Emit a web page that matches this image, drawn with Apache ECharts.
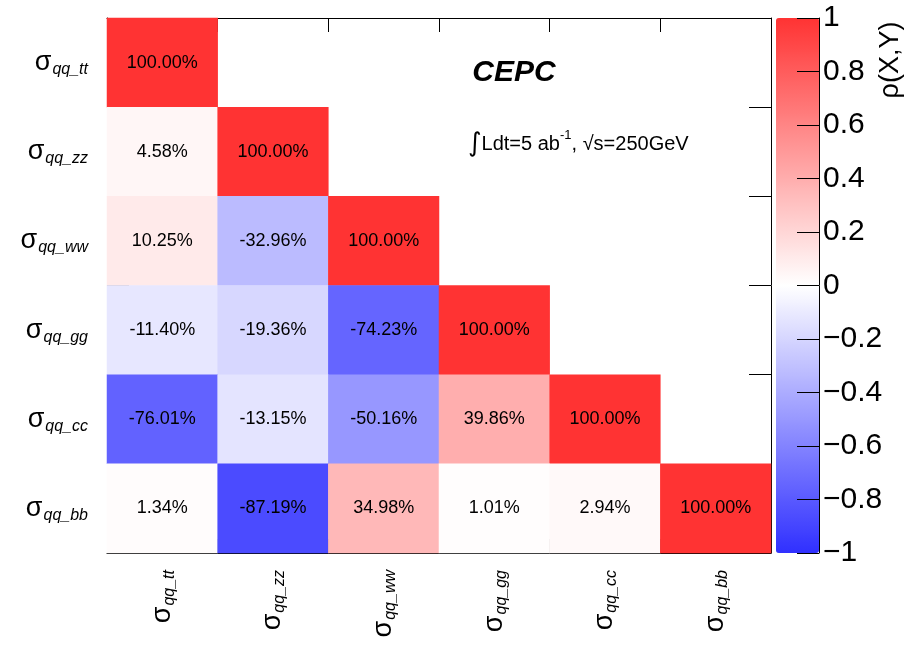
<!DOCTYPE html>
<html>
<head>
<meta charset="utf-8">
<script src="https://cdn.jsdelivr.net/npm/echarts@6/dist/echarts.min.js"></script>
<style>
  html, body { margin: 0; padding: 0; background: #fff; }
  #chart { width: 917px; height: 645px; }
</style>
</head>
<body>
<div id="chart"></div>
<script>
// Processes (axis order, top-to-bottom / left-to-right)
const processes = ['qq_tt', 'qq_zz', 'qq_ww', 'qq_gg', 'qq_cc', 'qq_bb'];

// Lower-triangular correlation matrix, in percent (row i, columns 0..i)
const corrTT = [100.00];
const corrZZ = [4.58, 100.00];
const corrWW = [10.25, -32.96, 100.00];
const corrGG = [-11.40, -19.36, -74.23, 100.00];
const corrCC = [-76.01, -13.15, -50.16, 39.86, 100.00];
const corrBB = [1.34, -87.19, 34.98, 1.01, 2.94, 100.00];
const corrRows = [corrTT, corrZZ, corrWW, corrGG, corrCC, corrBB];

// Colour scale range (correlation coefficient)
const scaleMin = -1;
const scaleMax = 1;
const scaleStep = 0.2;

const heatData = [];
corrRows.forEach((row, yi) => {
  row.forEach((v, xi) => heatData.push([xi, yi, v]));
});

const FONT = 'Liberation Sans, Arial, Helvetica, sans-serif';

const sigmaRich = {
  s: { fontFamily: FONT, fontSize: 27, color: '#000', lineHeight: 30, verticalAlign: 'middle' },
  sub: { fontFamily: FONT, fontSize: 16, fontStyle: 'italic', color: '#000', lineHeight: 30, verticalAlign: 'bottom', padding: [0, 0, 0, 1] }
};
const sigmaLabel = v => '{s|σ}{sub|' + v + '}';

const chart = echarts.init(document.getElementById('chart'), null, { renderer: 'canvas' });

const gridL = 107, gridT = 18, gridR = 771, gridB = 553;

chart.setOption({
  backgroundColor: '#ffffff',
  animation: false,
  grid: [
    { left: gridL, top: gridT, width: gridR - gridL, height: gridB - gridT },
    { left: 776, top: gridT, width: 43, height: gridB - gridT }
  ],
  xAxis: [
    {
      type: 'category', gridIndex: 0, data: processes, position: 'bottom',
      axisLine: { show: true, onZero: false, lineStyle: { color: '#000', width: 1 } },
      axisTick: { show: true, inside: true, length: 14, lineStyle: { color: '#000' } },
      splitLine: { show: false },
      axisLabel: {
        rotate: 90, margin: 17, formatter: sigmaLabel, rich: sigmaRich
      }
    },
    {
      type: 'category', gridIndex: 0, data: processes, position: 'top',
      axisLine: { show: true, onZero: false, lineStyle: { color: '#000', width: 1 } },
      axisTick: { show: true, inside: true, length: 14, lineStyle: { color: '#000' } },
      axisLabel: { show: false }, splitLine: { show: false }
    },
    { type: 'value', gridIndex: 1, show: false, min: 0, max: 1 }
  ],
  yAxis: [
    {
      type: 'category', gridIndex: 0, data: processes, inverse: true, position: 'left',
      axisLine: { show: true, onZero: false, lineStyle: { color: '#000', width: 1 } },
      axisTick: { show: true, inside: true, length: 22, lineStyle: { color: '#000' } },
      splitLine: { show: false },
      axisLabel: { margin: 19, formatter: sigmaLabel, rich: sigmaRich }
    },
    {
      type: 'category', gridIndex: 0, data: processes, inverse: true, position: 'right',
      axisLine: { show: true, onZero: false, lineStyle: { color: '#000', width: 1 } },
      axisTick: { show: true, inside: true, length: 22, lineStyle: { color: '#000' } },
      axisLabel: { show: false }, splitLine: { show: false }
    },
    {
      type: 'value', gridIndex: 1, position: 'right', z: 10,
      min: scaleMin, max: scaleMax, interval: scaleStep,
      axisLine: { show: true, onZero: false, lineStyle: { color: '#000', width: 1 } },
      axisTick: { show: true, inside: true, length: 22, lineStyle: { color: '#000' } },
      splitLine: { show: false },
      axisLabel: {
        margin: 4, fontFamily: FONT, fontSize: 30, color: '#000',
        formatter: v => {
          const r = parseFloat(v.toFixed(1));
          return r < 0 ? '\u2212' + String(Math.abs(r)) : String(r);
        }
      }
    }
  ],
  visualMap: {
    type: 'continuous',
    min: scaleMin * 100, max: scaleMax * 100,
    seriesIndex: 0,
    calculable: false,
    orient: 'vertical',
    left: 776, top: gridT,
    itemWidth: 43, itemHeight: gridB - gridT,
    padding: 0,
    text: null,
    showLabel: false,
    hoverLink: false,
    z: 1,
    inRange: { color: ['#3030ff', '#ffffff', '#ff3333'] }
  },
  series: [
    {
      type: 'heatmap',
      xAxisIndex: 0, yAxisIndex: 0,
      data: heatData,
      itemStyle: { borderWidth: 0 },
      label: {
        show: true, fontFamily: FONT, fontSize: 18, color: '#000',
        formatter: p => p.value[2].toFixed(2) + '%'
      },
      emphasis: { disabled: true }
    },
    {
      type: 'scatter', xAxisIndex: 2, yAxisIndex: 2, data: [], silent: true
    }
  ],
  graphic: [
    {
      type: 'text', x: 514, y: 73,
      style: {
        text: 'CEPC', fontFamily: FONT, fontSize: 30, fontWeight: 'bold', fontStyle: 'italic',
        fill: '#000', textAlign: 'center', textVerticalAlign: 'middle'
      }
    },
    {
      type: 'text', x: 468, y: 144,
      style: {
        text: '{i|∫}{n|Ldt=5 ab}{sup|-1}{n|, √s=250GeV}',
        textAlign: 'left', textVerticalAlign: 'middle',
        rich: {
          i: { fontFamily: 'DejaVu Sans', fontSize: 26, fill: '#000', lineHeight: 30 },
          n: { fontFamily: FONT, fontSize: 20, fill: '#000', lineHeight: 30 },
          sup: { fontFamily: FONT, fontSize: 13, fill: '#000', lineHeight: 30, verticalAlign: 'top' }
        }
      }
    },
    {
      type: 'text', x: 891, y: 60, rotation: Math.PI / 2,
      style: {
        text: 'ρ(X,Y)', fontFamily: FONT, fontSize: 27, fill: '#000',
        textAlign: 'center', textVerticalAlign: 'middle'
      }
    }
  ]
});
</script>
</body>
</html>
